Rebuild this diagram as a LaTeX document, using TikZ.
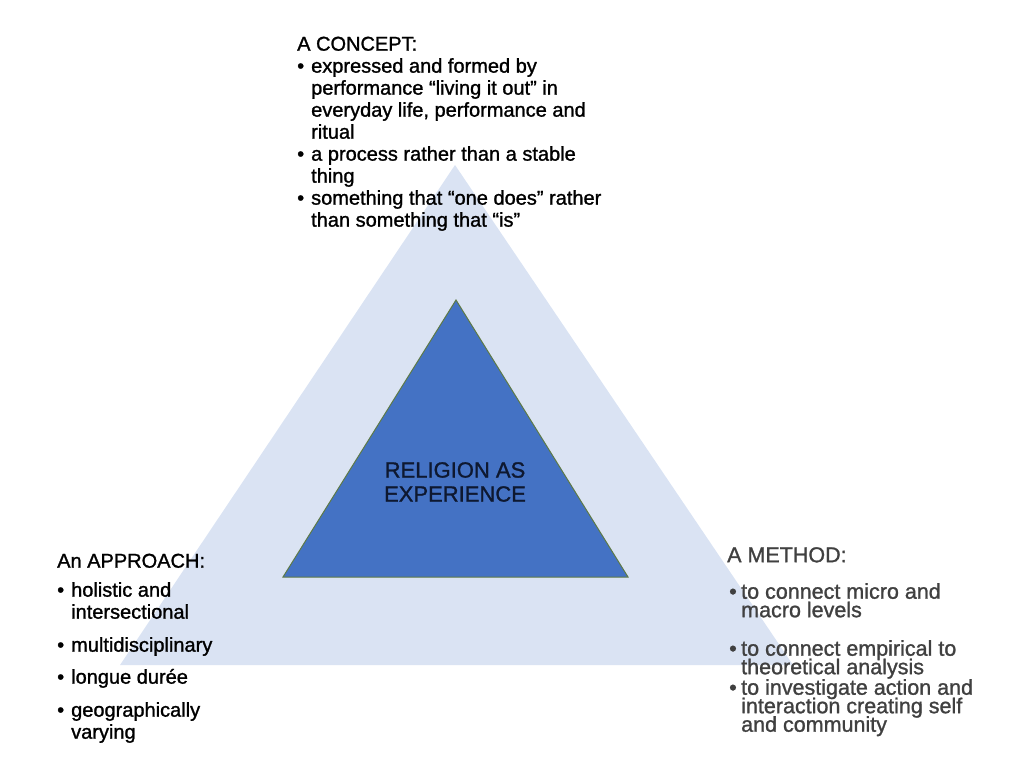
\documentclass[tikz,border=0pt]{standalone}
\usepackage{fontspec}
\setmainfont{Liberation Sans}[UprightFeatures={FakeBold=1.2}]
\usepackage{tikz}
\definecolor{outerblue}{HTML}{DAE3F3}
\definecolor{innerblue}{HTML}{4472C4}
\definecolor{edgegreen}{HTML}{5E7A45}
\definecolor{methodgray}{HTML}{404040}
\definecolor{centrenavy}{HTML}{0E1830}
\newcommand\bul{\makebox[14pt][l]{\textbullet}}
\newcommand\contline{\hspace*{14pt}}
\newcommand\mbul{\hspace*{2pt}\makebox[12pt][l]{\textbullet}}

\begin{document}
\begin{tikzpicture}[x=1pt,y=-1pt]
\tikzstyle{every node}=[inner sep=0pt,align=left,anchor=north west]
\tikzstyle{sidetext}=[font={\fontsize{20}{22}\selectfont}]
\tikzstyle{methodtext}=[font={\fontsize{21.5}{18.5}\selectfont\lineskiplimit-30pt},text=methodgray]
\useasboundingbox (0,0) rectangle (1024,768);
\coordinate (T) at (455,165);
\coordinate (L) at (120,665);
\coordinate (R) at (793,665);
\coordinate (t) at (456,300);
\coordinate (l) at (283,577);
\coordinate (r) at (628,577);
\fill[outerblue] (T) -- (L) -- (R) -- cycle;
\filldraw[fill=innerblue,draw=edgegreen,line width=1pt] (t) -- (l) -- (r) -- cycle;
\node (centre) at (455,482) [anchor=center,align=center,text=centrenavy,
  font={\fontsize{22}{24}\selectfont\lineskiplimit-30pt}] {RELIGION AS\\EXPERIENCE};
\node[sidetext] (concept) at (297,36.5) {A CONCEPT:\\
\bul expressed and formed by\\
\contline performance “living it out” in\\
\contline everyday life, performance and\\
\contline ritual\\
\bul a process rather than a stable\\
\contline thing\\
\bul something that “one does” rather\\
\contline than something that “is”};
\node[sidetext] (approach) at (57,553.5) {An APPROACH:\\[7pt]
\bul holistic and\\
\contline intersectional\\[11pt]
\bul multidisciplinary\\[10pt]
\bul longue durée\\[11pt]
\bul geographically\\
\contline varying};
\node[methodtext] (method) at (727,547) {A METHOD:\\[18pt]
\mbul to connect micro and\\
\contline macro levels\\[20pt]
\mbul to connect empirical to\\
\contline theoretical analysis\\[2pt]
\mbul to investigate action and\\
\contline interaction creating self\\
\contline and community};
\end{tikzpicture}
\end{document}
